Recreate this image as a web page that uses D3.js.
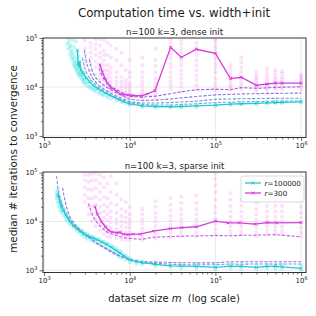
<!DOCTYPE html>
<html>
<head>
<meta charset="utf-8">
<script src="https://cdn.jsdelivr.net/npm/d3@7"></script>
<style>
  body { margin: 0; background: #fff; }
  svg text { font-family: "DejaVu Sans", sans-serif; fill: #222; }
</style>
</head>
<body>
<svg id="canvas" width="316" height="316"></svg>
<script>
// ---- data ----
var xTicks = [1e3, 1e4, 1e5, 1e6];
var yTicks = [1e3, 1e4, 1e5];
var legendLabels = ["100000", "300"];

// dense init panel
var topCyan = [[2450,57000],[2500,30000],[2560,26000],[2620,33000],[2700,22000],[2800,20000],[2900,18500],[3100,15500],[3400,12800],[3800,10500],[4200,9400],[4600,8500],[5200,7500],[5800,6800],[6500,6200],[7500,5500],[8500,5000],[10000,4500],[14000,4100],[20000,4000],[30000,3950],[40000,4000],[60000,4100],[100000,4250],[150000,4450],[200000,4550],[300000,4650],[400000,4750],[500000,4800],[600000,4850],[1000000,4950]];
var topLight = [[2800,40000],[2900,30000],[3000,24000],[3200,18000],[3500,14000],[4000,11000],[4500,9200],[5000,8200],[6000,6900],[7000,6000],[8000,5500],[10000,4800],[14000,4400],[20000,4300],[30000,4300],[40000,4400],[60000,4550],[100000,4800],[150000,4900],[200000,5000],[300000,5050],[400000,5100],[500000,5150],[600000,5150],[1000000,5200]];
var topBlue = [[2950,57000],[3050,40000],[3200,28000],[3400,20000],[3700,15000],[4000,12500],[4500,10200],[5000,9000],[6000,7500],[7000,6500],[8000,5900],[10000,5000],[14000,4700],[20000,4700],[30000,4800],[40000,4950],[60000,5150],[100000,5600],[150000,5700],[200000,5750],[300000,5800],[400000,5850],[500000,5850],[600000,5900],[1000000,5900]];
var topViolet = [[3370,37000],[3500,28000],[3700,20000],[4000,15500],[4500,12500],[5000,10800],[6000,8800],[7000,7600],[8000,6800],[10000,5600],[14000,5300],[20000,5400],[30000,5700],[40000,6000],[60000,6400],[100000,6900],[150000,7100],[200000,7200],[300000,7300],[400000,7400],[500000,7400],[600000,7450],[1000000,7500]];
var topPurple = [[4400,24000],[4600,19000],[5000,14500],[5500,12000],[6000,10500],[7000,8800],[8000,7800],[10000,6400],[14000,6200],[20000,6500],[30000,7300],[40000,8000],[60000,8800],[100000,9000],[150000,8800],[200000,9700],[300000,9400],[400000,9600],[500000,9800],[600000,9900],[1000000,10100]];
var topMag = [[4500,28000],[4800,20000],[5200,14500],[5500,11900],[6000,9700],[6500,9000],[7000,8200],[7700,7200],[8500,7000],[9600,6900],[11000,6700],[13800,6600],[16000,7200],[19700,8400],[30000,64500],[40000,40400],[60000,58900],[100000,48700],[150000,14800],[200000,15800],[300000,10800],[400000,11500],[500000,12000],[600000,12000],[1000000,12000]];

var topCyanPts = [[1850,75000],[1900,60000],[1950,80000],[1950,95000],[2000,45000],[2000,65000],[2050,70000],[2050,52000],[2100,38000],[2100,55000],[2150,90000],[2150,42000],[2200,30000],[2200,48000],[2200,36000],[2250,65000],[2250,27000],[2300,26000],[2300,40000],[2300,32000],[2350,85000],[2350,23000],[2400,22000],[2400,34000],[2400,28000],[2450,52000],[2450,20000],[2500,19000],[2500,28000],[2500,24000],[2550,42000],[2550,17500],[2600,17000],[2600,24000],[2650,20000],[2700,15000],[2700,21000],[2750,17000],[2800,13500],[2800,18000],[2850,15500],[2900,12500],[2950,14000],[3000,11500],[3000,15000],[3100,12500],[3200,10500],[3300,12500],[3400,10000],[3500,9500],[3600,11000],[3700,9000],[3800,8800],[4000,8000],[4000,9600],[4200,9000],[4400,7700],[4500,7300],[4800,7000],[5000,6800],[5500,6200],[6000,5800],[7000,5200],[8000,4900],[9000,4600],
  [10000,4300],[10000,4700],[14000,3900],[14000,4300],[20000,3800],[20000,4200],[30000,3750],[30000,4150],[40000,3800],[40000,4200],[60000,3900],[60000,4300],[100000,4050],[100000,4450],[150000,4250],[150000,4650],[200000,4350],[200000,4750],[300000,4450],[300000,4850],[400000,4550],[400000,4950],[500000,4600],[500000,5000],[600000,4650],[600000,5050],[1000000,4750],[1000000,5150]];
var topMagCols = [
  [3000,[20000,28000,35000,48000,60000,90000]],
  [3500,[15000,22000,30000,40000,50000,65000,80000]],
  [4000,[12000,18000,25000,33000,45000,60000,75000,95000]],
  [4500,[10000,14000,18000,24000,30000,40000,50000,70000,95000]],
  [5000,[9000,11000,14000,18000,22000,28000,35000,45000,55000,90000]],
  [5500,[8000,10000,12000,15000,18000,22000,28000,45000,80000]],
  [6000,[7500,9000,11000,13000,16000,20000,25000,40000,70000]],
  [7000,[6500,7500,9000,11000,13000,16000,20000,35000,60000]],
  [8000,[6000,7000,8000,9500,11000,13000,16000,28000,50000]],
  [9000,[5800,6500,7500,8500,10000,12000,14000,22000]],
  [10000,[5600,6300,7000,8000,9000,10500,12000,16000,20000,35000]],
  [14000,[5500,6200,7000,8000,9000,11000,13000,16000,20000,28000,40000]],
  [20000,[6000,7000,8000,10000,12000,15000,20000,27000,35000,60000]],
  [30000,[9000,11000,13000,16000,20000,25000,30000,38000,45000,55000,65000,80000,95000]],
  [40000,[8000,10000,12000,15000,18000,22000,28000,34000,40000,50000,60000,75000,90000]],
  [60000,[9000,11000,14000,17000,22000,28000,35000,45000,55000,65000,80000]],
  [100000,[8500,10000,12000,15000,20000,25000,30000,38000,48000,60000,70000,85000,95000]],
  [150000,[9000,10000,11000,13000,15000,17000,20000,24000,28000]],
  [200000,[9000,10500,12000,14000,16000,20000,25000,32000,40000]],
  [300000,[8000,9000,10000,11000,12000,13500,15000,17000,20000]],
  [400000,[8500,9500,10500,11500,13000,15000,17000,20000,24000]],
  [500000,[9000,10000,11000,12000,13000,14500,16000,19000,22000]],
  [600000,[9000,10000,11000,12000,13000,14500,16000,18500,21000]],
  [1000000,[9000,10000,11000,12000,13000,14000,15000,16500,18000]]
];

// sparse init panel
var botCyan = [[1450,36000],[1500,30000],[1550,24000],[1600,20000],[1680,17000],[1800,13500],[2000,10000],[2200,8200],[2400,7200],[2630,6300],[2900,5600],[3200,5100],[3500,4800],[3760,4550],[4200,4200],[4700,3800],[5380,3400],[6000,3000],[6800,2600],[7700,2250],[8600,1950],[10000,1650],[12000,1500],[14000,1420],[18800,1350],[20000,1320],[30000,1230],[40000,1220],[60000,1200],[100000,1150],[150000,1220],[200000,1200],[300000,1150],[400000,1200],[500000,1200],[600000,1180],[1000000,1100]];
var botBlue = [[1400,85000],[1450,50000],[1500,35000],[1600,24000],[1700,18000],[1800,14500],[2000,10500],[2200,8400],[2500,7000],[2800,6000],[3200,5000],[3700,4200],[4200,3600],[5000,3000],[6000,2500],[7000,2150],[8000,1900],[9000,1750],[10000,1600],[14000,1450],[20000,1400],[30000,1330],[40000,1300],[60000,1300],[100000,1300],[150000,1350],[200000,1330],[300000,1350],[400000,1350],[500000,1330],[600000,1350],[1000000,1350]];
var botViolet = [[1650,49000],[1700,35000],[1800,22000],[1900,16000],[2000,12500],[2200,9300],[2500,7200],[2800,6100],[3200,5000],[3700,4100],[4200,3500],[5000,2900],[6000,2400],[7000,2100],[8000,1900],[9000,1780],[10000,1650],[14000,1500],[20000,1480],[30000,1450],[40000,1430],[60000,1420],[100000,1420],[150000,1500],[200000,1490],[300000,1500],[400000,1500],[500000,1500],[600000,1500],[1000000,1500]];
var botPurple = [[3290,23400],[3500,17000],[3800,12000],[4100,9800],[4500,8000],[5000,6800],[5400,6100],[6000,5600],[7000,5200],[7700,4850],[9000,4600],[10000,4500],[12000,4400],[14000,4330],[18800,4760],[30000,4900],[40000,5000],[60000,5060],[100000,5150],[150000,5100],[200000,5200],[300000,5250],[400000,5300],[500000,5400],[600000,5250],[1000000,4830]];
var botMag = [[3940,20000],[4200,14000],[4700,9800],[5200,7800],[5630,6640],[6200,6100],[7050,5900],[7700,6000],[8500,5500],[9600,5400],[11000,5500],[13200,5500],[18800,6330],[29700,7170],[40500,7500],[60000,7800],[100000,10200],[140000,9350],[190000,9350],[290000,8800],[400000,9500],[520000,9350],[1000000,9500]];

var botCyanPts = [[1400,30000],[1400,40000],[1400,35000],[1450,25000],[1450,45000],[1450,32000],[1500,20000],[1500,33000],[1500,26000],[1550,17000],[1550,28000],[1550,22000],[1600,15000],[1600,22000],[1600,18500],[1650,16500],[1700,13000],[1700,18000],[1750,14500],[1800,11000],[1800,15000],[1850,12500],[1900,10000],[1900,12000],[2000,8500],[2000,11500],[2100,9500],[2200,7500],[2200,9500],[2300,8200],[2400,6500],[2400,8000],[2500,7200],[2600,6000],[2600,7000],[2700,6400],[2800,5200],[2800,6500],[2900,5700],[3000,4800],[3000,5600],[3100,5200],[3200,4400],[3200,5600],[3300,5000],[3500,4100],[3500,5000],[3700,4500],[3800,3800],[3800,4800],[4000,4300],[4200,3500],[4200,4400],[4500,3300],[4500,4300],[4700,3800],[5000,3000],[5000,3900],[5200,3500],[5500,2800],[5500,3600],[6000,2500],[6000,3300],[6300,2900],[6500,2300],[6500,3000],[7000,2100],[7000,2800],[7300,2400],[7500,1900],[7500,2500],[8000,1800],[8000,2400],[8500,2100],[9000,1650],[9000,2000],[9500,1850],[10000,1450],[10000,1750],[10500,1600],
  [12000,1350],[12000,1600],[14000,1300],[14000,1550],[20000,1200],[20000,1450],[30000,1130],[30000,1350],[40000,1100],[40000,1350],[60000,1080],[60000,1330],[100000,1050],[100000,1300],[150000,1100],[150000,1350],[200000,1080],[200000,1320],[300000,1050],[300000,1300],[400000,1080],[400000,1320],[500000,1080],[500000,1320],[600000,1070],[600000,1300],[1000000,1020],[1000000,1250]];
var botMagCols = [
  [3000,[25000,35000,50000,70000,90000]],
  [3300,[14000,20000,30000,45000,65000,90000]],
  [3600,[10000,14000,20000,30000,45000,70000,95000]],
  [4000,[8000,11000,15000,22000,32000,48000,70000,95000]],
  [4500,[6500,8500,11000,15000,20000,28000,40000,60000,90000]],
  [5000,[5500,7000,9000,12000,16000,22000,32000,50000,80000]],
  [5500,[5000,6200,8000,10500,14000,20000,30000,60000]],
  [6000,[4800,6000,7500,9500,12000,16000,24000,40000,85000]],
  [7000,[4500,5500,7000,9000,11000,15000,22000,35000,60000]],
  [8000,[4300,5200,6500,8000,10000,13000,18000,28000]],
  [9000,[4200,5000,6000,7500,9500,12000,16000,25000]],
  [10000,[4200,5000,6000,7500,9000,11000,14000,20000]],
  [14000,[4200,5000,6000,7200,9000,11000,14000,18000]],
  [20000,[4500,5500,6500,8000,10000,12000,15000,20000,26000]],
  [30000,[4800,5800,7000,8500,10500,13000,17000,22000,30000]],
  [40000,[5000,6000,7200,9000,11000,14000,18000,24000,32000]],
  [60000,[5000,6000,7500,9000,11000,14000,18000,24000,34000]],
  [100000,[5500,7000,9000,11500,15000,20000,28000,40000,55000,75000,95000]],
  [150000,[5500,6500,8000,10000,12500,16000,21000,28000,38000]],
  [200000,[5500,6500,8000,10000,12500,16000,21000,28000]],
  [300000,[5000,6000,7500,9000,11000,14000,18000,24000]],
  [400000,[5500,6500,8000,10000,12500,16000,21000,30000]],
  [500000,[5500,6500,8000,10000,12500,16000,21000,28000,40000]],
  [600000,[5500,6500,8000,10000,12500,16000,21000,28000]],
  [1000000,[5000,6000,7500,9500,12000,15000,20000,27000,38000]]
];

// ---- styles ----
var CYAN = "#22c8d0", MAG = "#d63cd6";
var CYAN_PT = "#30dede", MAG_PT = "#ee66ee";

var svg = d3.select("#canvas");
var xScale = d3.scaleLog().domain([Math.pow(10, 2.988), Math.pow(10, 6.057)]).range([43, 306]);

var panels = [
  {top: 38, bottom: 137.5, dom: [2.969, 5.0], title: "n=100 k=3, dense init", titleY: 35,
   pts: topCyanPts, cols: topMagCols,
   dashed: [[topLight, "#66b4dc"], [topBlue, "#7494dc"], [topViolet, "#8a78dc"], [topPurple, "#a062dc"]],
   cyan: topCyan, mag: topMag, legend: false},
  {top: 172, bottom: 272.5, dom: [2.955, 5.014], title: "n=100 k=3, sparse init", titleY: 169,
   pts: botCyanPts, cols: botMagCols,
   dashed: [[botBlue, "#7898e0"], [botViolet, "#9474e0"], [botPurple, "#c05ee2"]],
   cyan: botCyan, mag: botMag, legend: true}
];

function superLabel(sel, d) {
    var exp = Math.round(Math.log10(d));
    sel.text("");
    sel.append("tspan").text("10");
    sel.append("tspan").attr("dy", "-3.2").attr("font-size", 5).text(exp);
}

function minorTicks(lo, hi) {
    var out = [];
    for (var e = 2; e <= 6; e++) {
        for (var k = 2; k <= 9; k++) {
            var v = k * Math.pow(10, e);
            if (v > lo && v < hi) out.push(v);
        }
    }
    return out;
}

panels.forEach(function (p) {
    var yScale = d3.scaleLog().domain([Math.pow(10, p.dom[0]), Math.pow(10, p.dom[1])]).range([p.bottom, p.top]);
    var g = svg.append("g");
    var clipId = "clip" + p.top;
    svg.append("clipPath").attr("id", clipId).append("rect")
        .attr("x", 43).attr("y", p.top).attr("width", 263).attr("height", p.bottom - p.top);

    // grid
    var grid = g.append("g").attr("stroke", "#e4e4e4").attr("stroke-width", 0.8);
    xTicks.forEach(function (t) {
        var x = xScale(t);
        if (x > 44 && x < 305) grid.append("line").attr("x1", x).attr("x2", x).attr("y1", p.top).attr("y2", p.bottom);
    });
    yTicks.forEach(function (t) {
        var y = yScale(t);
        if (y > p.top + 1 && y < p.bottom - 1) grid.append("line").attr("x1", 43).attr("x2", 306).attr("y1", y).attr("y2", y);
    });

    var plot = g.append("g").attr("clip-path", "url(#" + clipId + ")");

    // scatter
    var flatMag = [];
    p.cols.forEach(function (c) { c[1].forEach(function (v) { flatMag.push([c[0], v]); }); });
    plot.selectAll(".mpt").data(flatMag).enter().append("rect")
        .attr("x", function (d) { return xScale(d[0]) - 1.75; })
        .attr("y", function (d) { return yScale(d[1]) - 1.75; })
        .attr("width", 3.5).attr("height", 3.5)
        .attr("fill", MAG_PT).attr("opacity", 0.2);
    plot.selectAll(".cpt").data(p.pts).enter().append("rect")
        .attr("x", function (d) { return xScale(d[0]) - 1.75; })
        .attr("y", function (d) { return yScale(d[1]) - 1.75; })
        .attr("width", 3.5).attr("height", 3.5)
        .attr("fill", CYAN_PT).attr("opacity", 0.28);

    var line = d3.line().x(function (d) { return xScale(d[0]); }).y(function (d) { return yScale(d[1]); });

    p.dashed.forEach(function (s) {
        plot.append("path").attr("d", line(s[0])).attr("fill", "none")
            .attr("stroke", s[1]).attr("stroke-width", 1.1).attr("stroke-dasharray", "3.2,1.6");
    });

    [[p.cyan, CYAN], [p.mag, MAG]].forEach(function (s) {
        plot.append("path").attr("d", line(s[0])).attr("fill", "none")
            .attr("stroke", s[1]).attr("stroke-width", 1.3);
        plot.selectAll(null).data(s[0]).enter().append("path")
            .attr("transform", function (d) { return "translate(" + xScale(d[0]) + "," + yScale(d[1]) + ")"; })
            .attr("d", "M-1.4,-1.4L1.4,1.4M-1.4,1.4L1.4,-1.4")
            .attr("stroke", s[1]).attr("stroke-width", 0.9);
    });

    // axes
    var xAxis = g.append("g").attr("transform", "translate(0," + p.bottom + ")")
        .call(d3.axisBottom(xScale).tickValues(xTicks).tickSize(3.5).tickPadding(2));
    xAxis.selectAll("text").attr("font-size", 7).each(function (d) { superLabel(d3.select(this), d); });
    g.append("g").attr("transform", "translate(0," + p.bottom + ")")
        .call(d3.axisBottom(xScale).tickValues(minorTicks(1000, 1e6)).tickSize(2).tickFormat(""));

    var yAxis = g.append("g").attr("transform", "translate(43,0)")
        .call(d3.axisLeft(yScale).tickValues(yTicks).tickSize(3.5).tickPadding(2));
    yAxis.selectAll("text").attr("font-size", 7).each(function (d) { superLabel(d3.select(this), d); });
    g.append("g").attr("transform", "translate(43,0)")
        .call(d3.axisLeft(yScale).tickValues(minorTicks(Math.pow(10, p.dom[0]), Math.pow(10, p.dom[1]))).tickSize(2).tickFormat(""));
    g.selectAll(".domain").remove();
    g.selectAll(".tick line").attr("stroke", "#333").attr("stroke-width", 0.7);

    g.append("rect").attr("x", 43).attr("y", p.top).attr("width", 263).attr("height", p.bottom - p.top)
        .attr("fill", "none").attr("stroke", "#333").attr("stroke-width", 1);

    svg.append("text").attr("x", 174.5).attr("y", p.titleY).attr("text-anchor", "middle")
        .attr("font-size", 8.6).text(p.title);

    if (p.legend) {
        var lg = svg.append("g");
        lg.append("rect").attr("x", 241).attr("y", 176).attr("width", 63).attr("height", 26).attr("rx", 2)
            .attr("fill", "#fff").attr("fill-opacity", 0.85).attr("stroke", "#ccc").attr("stroke-width", 0.7);
        [[CYAN, legendLabels[0]], [MAG, legendLabels[1]]].forEach(function (e, i) {
            var y = 183 + i * 10;
            lg.append("line").attr("x1", 245).attr("x2", 261).attr("y1", y).attr("y2", y)
                .attr("stroke", e[0]).attr("stroke-width", 1.3);
            lg.append("path").attr("transform", "translate(253," + y + ")")
                .attr("d", "M-1.5,-1.5L1.5,1.5M-1.5,1.5L1.5,-1.5").attr("stroke", e[0]).attr("stroke-width", 0.9);
            var t = lg.append("text").attr("x", 264.5).attr("y", y + 2.5).attr("font-size", 7.2);
            t.append("tspan").attr("font-style", "italic").text("r");
            t.append("tspan").text("=" + e[1]);
        });
    }
});

svg.append("text").attr("x", 174).attr("y", 16.5).attr("text-anchor", "middle")
    .attr("font-size", 11.8).text("Computation time vs. width+init");

var xl = svg.append("text").attr("x", 174).attr("y", 302).attr("text-anchor", "middle").attr("font-size", 10);
xl.append("tspan").text("dataset size ");
xl.append("tspan").attr("font-style", "italic").text("m");
xl.append("tspan").attr("xml:space", "preserve").text("  (log scale)");

svg.append("text").attr("transform", "translate(16.5,159) rotate(-90)").attr("text-anchor", "middle")
    .attr("font-size", 10.4).text("median # iterations to convergence");
</script>
</body>
</html>
